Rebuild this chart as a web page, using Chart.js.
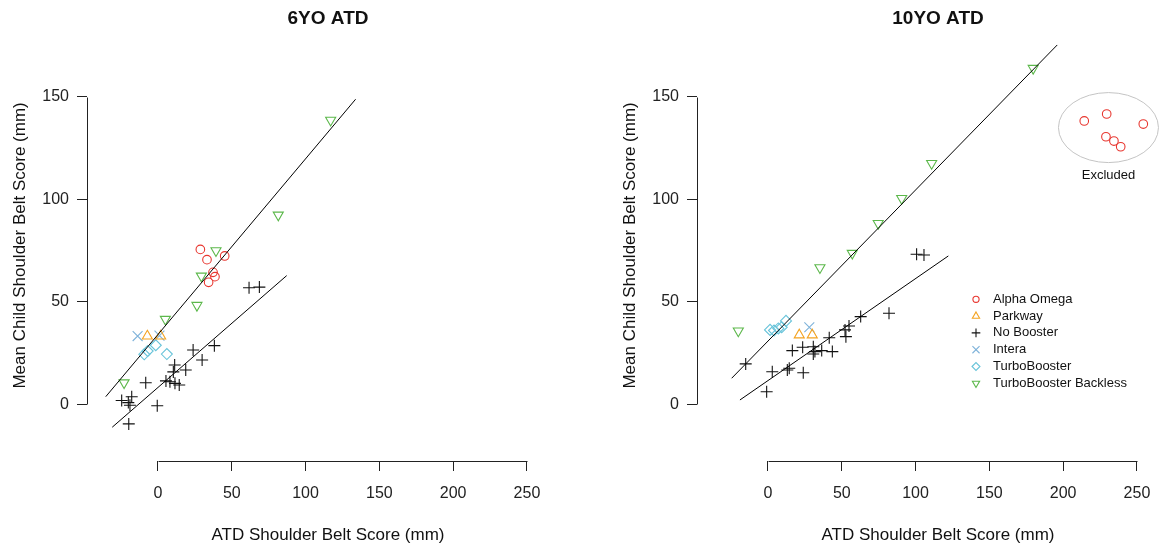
<!DOCTYPE html>
<html>
<head>
<meta charset="utf-8">
<script src="https://cdn.jsdelivr.net/npm/chart.js@4.4.1/dist/chart.umd.min.js"></script>
<style>
  html, body { margin: 0; padding: 0; background: #fff; width: 1159px; height: 548px; overflow: hidden; }
  canvas { position: absolute; top: 0; }
  #c6  { left: 0; }
  #c10 { left: 610px; }
</style>
</head>
<body>
<canvas id="c6" width="580" height="548"></canvas>
<canvas id="c10" width="580" height="548"></canvas>
<script>
// ---- axis ticks ----
const xTickValues = [0, 50, 100, 150, 200, 250];
const yTickValues = [0, 50, 100, 150];

// ---- 6YO ATD: [ATD score, mean child score] ----
const alpha6    = [[28.7, 75.6], [33.2, 70.6], [45.2, 72.4], [37.3, 64.4], [38.6, 62.3], [34.3, 59.5]];
const parkway6  = [[-7.2, 33.3], [1.8, 33.3]];
const intera6   = [[-13.8, 33.3], [1.0, 33.5]];
const turbo6    = [[-9.3, 24.4], [-7.0, 26.0], [-1.5, 28.8], [6.0, 24.5]];
const backless6 = [[117, 138.7], [81.5, 92.4], [39.3, 75.0], [29.4, 62.6], [26.4, 48.3], [5.0, 41.5], [-23.0, 10.5]];
const noBooster6 = [[61.7, 56.9], [68.7, 57.2], [38.2, 28.6], [23.8, 26.5], [29.9, 21.6], [18.8, 16.7], [11.3, 19.2],
  [10.4, 15.8], [5.4, 11.4], [8.1, 11.0], [11.5, 10.2], [14.4, 9.4], [-8.3, 10.5], [-24.6, 1.8], [-17.8, 3.7],
  [-20.1, 0.8], [-19.0, -0.5], [-0.5, -0.7], [-19.8, -9.6]];
// fitted lines (end points): booster group, no booster group
const fitBooster6 = [[-35.4, 3.7], [133.9, 148.9]];
const fitNone6    = [[-31.0, -11.2], [87.2, 62.8]];

// ---- 10YO ATD ----
const alpha10Excluded = [[214.3, 138.3], [229.5, 141.7], [254.3, 136.8], [229.0, 130.6], [234.4, 128.5], [239.0, 125.7]];
const parkway10  = [[21.2, 33.8], [30.0, 33.8]];
const intera10   = [[28.0, 37.6]];
const turbo10    = [[1.4, 36.3], [4.1, 36.0], [7.0, 37.0], [9.3, 37.6], [12.2, 40.7]];
const backless10 = [[179.7, 164.0], [110.9, 117.6], [90.6, 100.5], [74.7, 88.3], [57.1, 73.7], [35.2, 66.7], [-20.1, 35.8]];
const noBooster10 = [[100.7, 73.2], [105.7, 72.9], [82.0, 44.4], [62.8, 42.8], [54.9, 38.2], [52.2, 36.3], [52.8, 33.0],
  [41.5, 32.5], [30.7, 28.1], [23.5, 27.8], [16.5, 26.2], [31.8, 25.7], [36.4, 26.2], [43.6, 25.7], [30.7, 24.5],
  [-15.1, 19.7], [14.4, 17.6], [13.1, 16.7], [2.9, 15.9], [23.9, 15.4], [-0.9, 6.1]];
const fitBooster10 = [[-24.6, 12.7], [196.0, 175.4]];
const fitNone10    = [[-19.0, 2.1], [122.2, 72.4]];

// ---- glyphs per seat ----
const SERIES = [
  { key: "alpha",    label: "Alpha Omega",           color: "#e8362f", style: "circle",   radius: 4.3, rotation: 0 },
  { key: "parkway",  label: "Parkway",               color: "#f4a321", style: "triangle", radius: 5.8, rotation: 0 },
  { key: "none",     label: "No Booster",            color: "#111111", style: "cross",    radius: 6.0, rotation: 0 },
  { key: "intera",   label: "Intera",                color: "#7fb3da", style: "crossRot", radius: 7.0, rotation: 0 },
  { key: "turbo",    label: "TurboBooster",          color: "#69c4da", style: "rectRot",  radius: 5.5, rotation: 0 },
  { key: "backless", label: "TurboBooster Backless", color: "#5cb84b", style: "triangle", radius: 5.8, rotation: 180 },
];

const FONT = '"Liberation Sans", Arial, Helvetica, sans-serif';
Chart.defaults.font.family = FONT;
Chart.defaults.color = "#222";

const toXY = (arr) => arr.map(([x, y]) => ({ x, y }));
const mean = (a) => a.reduce((s, v) => s + v, 0) / a.length;

// -------- plugins ----------
// R-style detached axis lines: only from first to last tick
const axisLines = {
  id: "axisLines",
  afterDraw(chart) {
    const { ctx, chartArea, scales } = chart;
    const xs = scales.x, ys = scales.y;
    ctx.save();
    ctx.strokeStyle = "#222";
    ctx.lineWidth = 1;
    ctx.beginPath();
    const by = Math.round(chartArea.bottom) + 0.5;
    ctx.moveTo(Math.round(xs.getPixelForValue(xTickValues[0])) + 0.5, by);
    ctx.lineTo(Math.round(xs.getPixelForValue(xTickValues[xTickValues.length - 1])) + 0.5, by);
    const lx = Math.round(chartArea.left) + 0.5;
    ctx.moveTo(lx, Math.round(ys.getPixelForValue(yTickValues[0])) + 0.5);
    ctx.lineTo(lx, Math.round(ys.getPixelForValue(yTickValues[yTickValues.length - 1])) + 0.5);
    ctx.stroke();
    ctx.restore();
  }
};

// legend drawn inside the plot, glyphs through chart.js helpers
const sideKey = {
  id: "sideKey",
  afterDraw(chart, args, opts) {
    if (!opts.show) return;
    const ctx = chart.ctx;
    ctx.save();
    ctx.font = "13px " + FONT;
    ctx.textBaseline = "middle";
    ctx.textAlign = "left";
    SERIES.forEach((s, i) => {
      const y = opts.y + i * opts.step;
      ctx.strokeStyle = s.color;
      ctx.fillStyle = "rgba(0,0,0,0)";
      ctx.lineWidth = 1.1;
      Chart.helpers.drawPoint(ctx, { pointStyle: s.style, rotation: s.rotation, radius: s.radius * 0.72, borderWidth: 1.1 }, opts.x, y);
      ctx.fillStyle = "#111";
      ctx.fillText(s.label, opts.x + 17, y);
    });
    ctx.restore();
  }
};

// grey ring round the excluded points
const excludedRing = {
  id: "excludedRing",
  afterDatasetsDraw(chart, args, opts) {
    if (!opts.points) return;
    const { ctx, scales } = chart;
    const cx = scales.x.getPixelForValue(mean(opts.points.map(p => p[0]))) + opts.dx;
    const cy = scales.y.getPixelForValue(mean(opts.points.map(p => p[1]))) + opts.dy;
    ctx.save();
    ctx.strokeStyle = "#c4c4c4";
    ctx.lineWidth = 1;
    ctx.beginPath();
    ctx.ellipse(cx, cy, opts.rx, opts.ry, 0, 0, Math.PI * 2);
    ctx.stroke();
    ctx.fillStyle = "#111";
    ctx.font = "13px " + FONT;
    ctx.textAlign = "center";
    ctx.textBaseline = "middle";
    ctx.fillText(opts.label, cx, cy + opts.ry + 13);
    ctx.restore();
  }
};

// -------- panels ----------
function buildPanel(canvasId, title, groups, fits, extra) {
  const datasets = [];
  fits.forEach(f => datasets.push({
    data: toXY(f), showLine: true, borderColor: "#000", borderWidth: 1, pointRadius: 0
  }));
  SERIES.forEach(s => {
    const pts = groups[s.key];
    if (!pts) return;
    datasets.push({
      label: s.label, data: toXY(pts), showLine: false,
      pointStyle: s.style, pointRotation: s.rotation, pointRadius: s.radius,
      pointBorderColor: s.color, pointBackgroundColor: "rgba(0,0,0,0)", pointBorderWidth: 1.1
    });
  });

  const axisTitleFont = { size: 17, family: FONT };
  return new Chart(document.getElementById(canvasId), {
    type: "scatter",
    data: { datasets },
    options: {
      responsive: false,
      devicePixelRatio: 1,
      animation: false,
      events: [],
      layout: { padding: { top: 0, right: 11, left: 0, bottom: 0 } },
      scales: {
        x: {
          type: "linear", min: -48.1, max: 278.5,
          afterBuildTicks: (s) => { s.ticks = xTickValues.map(v => ({ value: v })); },
          afterFit: (s) => { s.height = 87; },
          grid: { drawOnChartArea: false, drawTicks: true, tickLength: 10, color: "#222", tickColor: "#222" },
          border: { display: false },
          ticks: { font: { size: 16 }, color: "#222", padding: 13, maxRotation: 0 },
          title: { display: true, text: "ATD Shoulder Belt Score (mm)", font: axisTitleFont, color: "#111", padding: { top: 0, bottom: 2 } }
        },
        y: {
          type: "linear", min: -27.7, max: 182.8,
          afterBuildTicks: (s) => { s.ticks = yTickValues.map(v => ({ value: v })); },
          afterFit: (s) => { s.width = 87; },
          grid: { drawOnChartArea: false, drawTicks: true, tickLength: 10, color: "#222", tickColor: "#222" },
          border: { display: false },
          ticks: { font: { size: 16 }, color: "#222", padding: 8 },
          title: { display: true, text: "Mean Child Shoulder Belt Score (mm)", font: axisTitleFont, color: "#111", padding: { top: 10, bottom: 0 } }
        }
      },
      plugins: {
        legend: { display: false },
        tooltip: { enabled: false },
        title: {
          display: true, text: title, fullSize: false, color: "#111",
          font: { size: 19, weight: "bold", family: FONT }, padding: { top: 7, bottom: 0 }
        },
        sideKey: extra.key || { show: false },
        excludedRing: extra.ring || {}
      }
    },
    plugins: [axisLines, sideKey, excludedRing]
  });
}

buildPanel("c6", "6YO ATD",
  { alpha: alpha6, parkway: parkway6, none: noBooster6, intera: intera6, turbo: turbo6, backless: backless6 },
  [fitBooster6, fitNone6], {});

buildPanel("c10", "10YO ATD",
  { alpha: alpha10Excluded, parkway: parkway10, none: noBooster10, intera: intera10, turbo: turbo10, backless: backless10 },
  [fitBooster10, fitNone10],
  {
    key: { show: true, x: 366, y: 299.3, step: 16.8 },
    ring: { points: alpha10Excluded, dx: -4, dy: -3, rx: 50, ry: 35, label: "Excluded" }
  });
</script>
</body>
</html>
